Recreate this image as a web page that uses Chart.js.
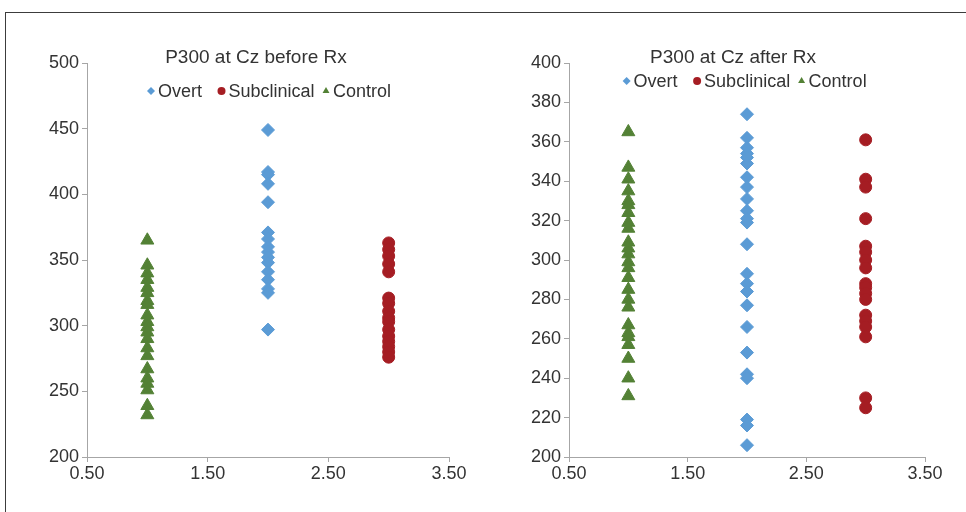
<!DOCTYPE html>
<html>
<head>
<meta charset="utf-8">
<title>P300 at Cz</title>
<script src="https://cdn.jsdelivr.net/npm/chart.js@4.4.1/dist/chart.umd.min.js"></script>
<style>
  html, body { margin: 0; padding: 0; background: #fff; overflow: hidden; }
  body { width: 966px; height: 512px; position: relative; }
  .frame { position: absolute; left: 5px; top: 12px; width: 1200px; height: 800px; border: 1px solid #3c3c3c; }
  canvas { position: absolute; top: 0; }
  #before { left: 0; }
  #after { left: 483px; }
</style>
</head>
<body>
<div class="frame"></div>
<canvas id="before" width="483" height="512"></canvas>
<canvas id="after" width="483" height="512"></canvas>

<script>
/* ============================
   DATA
   ============================ */
const groups = ["Overt", "Subclinical", "Control"];
const groupX = [2, 3, 1]; // x position of each group

// P300 latency before treatment
const overtBefore = [449, 417, 415, 408, 394, 371, 366, 360, 356, 352, 348, 341, 335, 328, 325, 297];
const subclinicalBefore = [363, 358, 353, 347, 341, 321, 317, 311, 306, 303, 297, 292, 288, 284, 280, 276];
const controlBefore = [365, 346, 340, 335, 329, 325, 319, 316, 308, 303, 299, 295, 290, 283, 277, 267, 260, 256, 251, 239, 232];

// P300 latency after treatment
const overtAfter = [374, 362, 357, 354, 352, 349, 342, 337, 331, 325, 321, 319, 308, 293, 288, 284, 277, 266, 253, 242, 240, 219, 216, 206];
const subclinicalAfter = [361, 341, 337, 321, 307, 304, 300, 296, 288, 286, 283, 280, 272, 269, 266, 261, 230, 225];
const controlAfter = [365, 347, 341, 335, 330, 328, 324, 319, 316, 309, 306, 303, 299, 296, 291, 285, 280, 276, 267, 263, 261, 257, 250, 240, 231];

// axis ticks
const xTickValues = [0.5, 1.5, 2.5, 3.5];
const yTicksBefore = [200, 250, 300, 350, 400, 450, 500];
const yTicksAfter = [200, 220, 240, 260, 280, 300, 320, 340, 360, 380, 400];

/* ============================
   STYLE
   ============================ */
const FONT = '"Liberation Sans", Arial, sans-serif';
const AXIS_GREY = "#a6a6a6";
const TEXT = "#333333";
const styles = [
  { color: "#5B9BD5", pointStyle: "rectRot", radius: 6.5 },
  { color: "#A51D23", pointStyle: "circle", radius: 6 },
  { color: "#538135", pointStyle: "triangle", radius: 7.5 },
];

// title + legend drawn at fixed spots (legend sits inside the plot area)
const panelText = {
  id: "panelText",
  afterDraw(chart, args, opts) {
    const ctx = chart.ctx;
    ctx.save();
    ctx.fillStyle = TEXT;
    ctx.font = `19px ${FONT}`;
    ctx.textAlign = "center";
    ctx.textBaseline = "alphabetic";
    ctx.fillText(opts.title, opts.titleX, opts.titleY);

    ctx.font = `18px ${FONT}`;
    ctx.textAlign = "left";
    chart.data.datasets.forEach((ds, i) => {
      const mx = opts.legendX + opts.legendOffsets[i];
      const my = opts.legendY - 6;
      ctx.fillStyle = ds.backgroundColor;
      Chart.helpers.drawPoint(
        ctx,
        { pointStyle: ds.pointStyle, radius: 4, rotation: 0, borderWidth: 0 },
        mx,
        my
      );
      ctx.fillStyle = TEXT;
      ctx.fillText(ds.label, mx + 7, opts.legendY);
    });
    ctx.restore();
  },
};

function makeDatasets(seriesList) {
  return seriesList.map((values, i) => ({
    label: groups[i],
    data: values.map((v) => ({ x: groupX[i], y: v })),
    backgroundColor: styles[i].color,
    borderColor: styles[i].color,
    borderWidth: 1,
    pointStyle: styles[i].pointStyle,
    pointRadius: styles[i].radius,
    pointHoverRadius: styles[i].radius,
  }));
}

function makeChart(id, seriesList, yTicks, text, yWidth, padRight) {
  const ctx = document.getElementById(id).getContext("2d");
  return new Chart(ctx, {
    type: "scatter",
    data: { datasets: makeDatasets(seriesList) },
    plugins: [panelText],
    options: {
      responsive: false,
      animation: false,
      layout: { padding: { top: 63, right: padRight, bottom: 25, left: 0 } },
      plugins: {
        legend: { display: false },
        tooltip: { enabled: false },
        panelText: text,
      },
      scales: {
        x: {
          type: "linear",
          min: xTickValues[0],
          max: xTickValues[xTickValues.length - 1],
          afterBuildTicks: (s) => {
            s.ticks = xTickValues.map((v) => ({ value: v }));
          },
          afterFit: (s) => {
            s.height = 30;
          },
          ticks: {
            autoSkip: false,
            maxRotation: 0,
            padding: 1,
            color: TEXT,
            font: { family: FONT, size: 18 },
            callback: (v) => Number(v).toFixed(2),
          },
          grid: { drawOnChartArea: false, drawTicks: true, tickLength: 5, color: AXIS_GREY },
          border: { display: true, color: AXIS_GREY, width: 1 },
        },
        y: {
          type: "linear",
          min: yTicks[0],
          max: yTicks[yTicks.length - 1],
          afterBuildTicks: (s) => {
            s.ticks = yTicks.map((v) => ({ value: v }));
          },
          afterFit: (s) => {
            s.width = yWidth;
          },
          ticks: {
            padding: 3,
            color: TEXT,
            font: { family: FONT, size: 18 },
          },
          grid: { drawOnChartArea: false, drawTicks: true, tickLength: 5, color: AXIS_GREY },
          border: { display: true, color: AXIS_GREY, width: 1 },
        },
      },
    },
  });
}

/* ============================
   INIT
   ============================ */
makeChart(
  "before",
  [overtBefore, subclinicalBefore, controlBefore],
  yTicksBefore,
  {
    title: "P300 at Cz before Rx",
    titleX: 256,
    titleY: 63,
    legendX: 151,
    legendY: 97,
    legendOffsets: [0, 70.5, 175],
  },
  87,
  34
);

makeChart(
  "after",
  [overtAfter, subclinicalAfter, controlAfter],
  yTicksAfter,
  {
    title: "P300 at Cz after Rx",
    titleX: 250,
    titleY: 63,
    legendX: 143.6,
    legendY: 87,
    legendOffsets: [0, 70.5, 175],
  },
  86,
  41
);
</script>
</body>
</html>
